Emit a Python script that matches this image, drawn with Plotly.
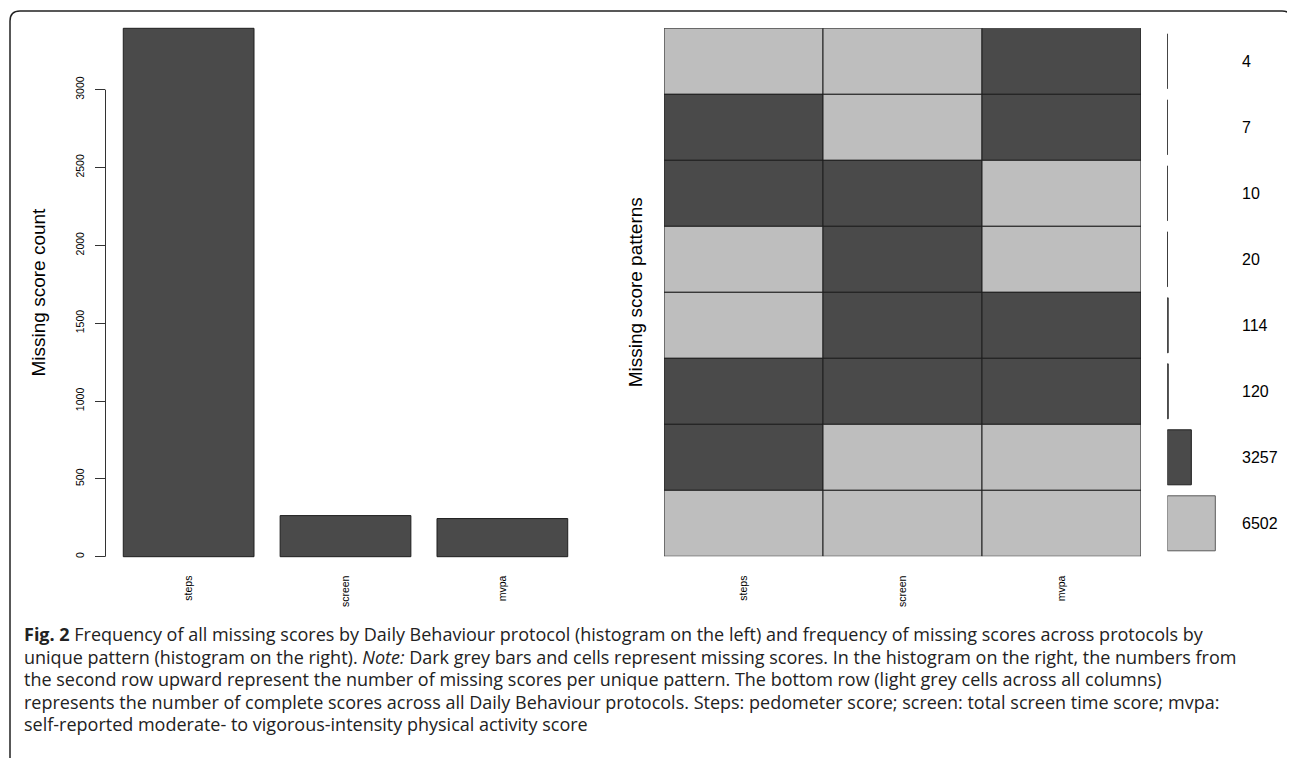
import plotly.graph_objects as go

# page body has an 8px margin; figure is sized/offset to fill the 1295x758 view
OFF = 8
W, H = 1295 - OFF, 758 - OFF

# ---------------- data ----------------
protocols = ["steps", "screen", "mvpa"]
missing_counts = [3394, 264, 245]          # left histogram

# unique missingness patterns, listed top row -> bottom row (1 = missing)
pattern_counts = [4, 7, 10, 20, 114, 120, 3257, 6502]
pattern_steps = [0, 1, 1, 0, 0, 1, 1, 0]
pattern_screen = [0, 0, 1, 1, 1, 1, 0, 0]
pattern_mvpa = [1, 1, 0, 0, 1, 1, 0, 0]

y_ticks = [0, 500, 1000, 1500, 2000, 2500, 3000]

caption_lines = [
    "<b>Fig. 2</b> Frequency of all missing scores by Daily Behaviour protocol (histogram on the left) and frequency of missing scores across protocols by",
    "unique pattern (histogram on the right). <i>Note:</i> Dark grey bars and cells represent missing scores. In the histogram on the right, the numbers from",
    "the second row upward represent the number of missing scores per unique pattern. The bottom row (light grey cells across all columns)",
    "represents the number of complete scores across all Daily Behaviour protocols. Steps: pedometer score; screen: total screen time score; mvpa:",
    "self-reported moderate- to vigorous-intensity physical activity score",
]

# ---------------- style ----------------
DARK = "#4a4a4a"
LIGHT = "#bebebe"
EDGE = "#1e1e1e"
FONT = "Liberation Sans, Arial, sans-serif"
CAP_FONT = "Open Sans, Noto Sans, sans-serif"


def px_x(x):
    return (x - OFF) / W


def px_y(y):
    return 1 - (y - OFF) / H


fig = go.Figure()

# ---- left histogram ----
fig.add_trace(go.Bar(
    x=protocols, y=missing_counts,
    marker=dict(color=DARK, line=dict(color=EDGE, width=1)),
    xaxis="x", yaxis="y", showlegend=False, hoverinfo="x+y",
))

# ---- pattern grid ----
n_rows = len(pattern_counts)
bases = [n_rows - 1 - i for i in range(n_rows)]
for col, pat in zip(protocols, [pattern_steps, pattern_screen, pattern_mvpa]):
    fig.add_trace(go.Bar(
        x=[col] * n_rows, y=[1] * n_rows, base=bases, width=1,
        marker=dict(color=[DARK if v else LIGHT for v in pat],
                    line=dict(color=EDGE, width=1)),
        xaxis="x2", yaxis="y2", showlegend=False, hoverinfo="skip",
    ))

# ---- pattern frequency bars ----
centers = [b + 0.5 for b in bases]
fig.add_trace(go.Bar(
    x=pattern_counts, y=centers, orientation="h", width=1 / 1.2,
    marker=dict(color=[DARK] * (n_rows - 1) + [LIGHT],
                line=dict(color=[EDGE] * (n_rows - 1) + ["#5a5a5a"], width=1)),
    xaxis="x3", yaxis="y3", showlegend=False, hoverinfo="x",
))

ymax = max(missing_counts)
zero_px = 556.5
left_dom_y = [px_y(577.9), px_y(6.4 if 6.4 > OFF else OFF)]
grid_dom_y = [px_y(556.3), px_y(28.3)]

fig.update_layout(
    width=W, height=H,
    margin=dict(l=0, r=0, t=0, b=0),
    paper_bgcolor="white", plot_bgcolor="white",
    barmode="overlay", bargap=0.2 / 1.2,
    font=dict(family=FONT, color="black"),
    xaxis=dict(domain=[px_x(105.5), px_x(585.5)], range=[-0.53, 2.53],
               anchor="free", position=px_y(zero_px),
               showline=False, ticks="", showgrid=False, zeroline=False,
               tickangle=-90, tickfont=dict(size=10.5, family=FONT),
               ticklabelstandoff=16),
    xaxis2=dict(domain=[px_x(664), px_x(1141)], range=[-0.5, 2.5],
                anchor="free", position=px_y(zero_px),
                showline=False, ticks="", showgrid=False, zeroline=False,
                tickangle=-90, tickfont=dict(size=10.5, family=FONT),
                ticklabelstandoff=16),
    yaxis2=dict(domain=grid_dom_y, range=[0, n_rows], anchor="x2",
                showline=False, showgrid=False, zeroline=False,
                showticklabels=False, ticks=""),
    xaxis3=dict(domain=[px_x(1167.3), px_x(1167.3 + 96)],
                range=[0, 2 * max(pattern_counts)], anchor="y3",
                visible=False),
    yaxis3=dict(domain=grid_dom_y, range=[0, n_rows], anchor="x3",
                visible=False),
)

# left y axis: keep the R scale (0 at 556.7px, 3394 at 28.3px)
px_per_unit = (556.7 - 28.3) / ymax
y_lo = -(577.9 - 556.7) / px_per_unit
y_hi = (556.7 - OFF) / px_per_unit
fig.update_layout(yaxis=dict(
    domain=[px_y(577.9), 1.0], range=[y_lo, y_hi],
    anchor="x", showline=False, showgrid=False, zeroline=False,
    ticks="outside", ticklen=10, tickcolor="#333", tickwidth=1,
    tickvals=y_ticks, tickangle=-90,
    tickfont=dict(size=10.5, family=FONT), ticklabelstandoff=6))

# R-style y axis line spanning first to last tick
fig.add_shape(type="line", xref="paper", yref="y",
              x0=px_x(105.5), x1=px_x(105.5), y0=y_ticks[0], y1=y_ticks[-1],
              line=dict(color="#333", width=1))

# axis titles
fig.add_annotation(text="Missing score count", textangle=-90,
                   xref="paper", yref="paper", x=px_x(37.5), y=px_y(292),
                   xanchor="center", yanchor="middle", showarrow=False,
                   font=dict(size=19, family=FONT, color="black"))
fig.add_annotation(text="Missing score patterns", textangle=-90,
                   xref="paper", yref="paper", x=px_x(635), y=px_y(292.3),
                   xanchor="center", yanchor="middle", showarrow=False,
                   font=dict(size=19, family=FONT, color="black"))

# pattern counts
for c, yc in zip(pattern_counts, centers):
    fig.add_annotation(text=str(c), xref="paper", yref="y3",
                       x=px_x(1240), y=yc, xanchor="left", yanchor="middle",
                       showarrow=False,
                       font=dict(size=16, family=FONT, color="black"))

# caption
line_y = [634, 656.5, 679, 701.5, 724]
for txt, ly in zip(caption_lines, line_y):
    fig.add_annotation(text=txt, xref="paper", yref="paper",
                       x=px_x(22), y=px_y(ly), xanchor="left",
                       yanchor="middle", showarrow=False, align="left",
                       font=dict(size=18, family=CAP_FONT, color="#222"))

# rounded frame (open at the bottom, as in the cropped original)
path = (f"M {px_x(10)},{px_y(770)} L {px_x(10)},{px_y(21)} "
        f"Q {px_x(10)},{px_y(11)} {px_x(20)},{px_y(11)} "
        f"L {px_x(1282)},{px_y(11)} "
        f"Q {px_x(1292)},{px_y(11)} {px_x(1292)},{px_y(21)} "
        f"L {px_x(1292)},{px_y(770)}")
fig.add_shape(type="path", path=path, xref="paper", yref="paper",
              line=dict(color="#222", width=1.5))

fig.write_html("out.html")
